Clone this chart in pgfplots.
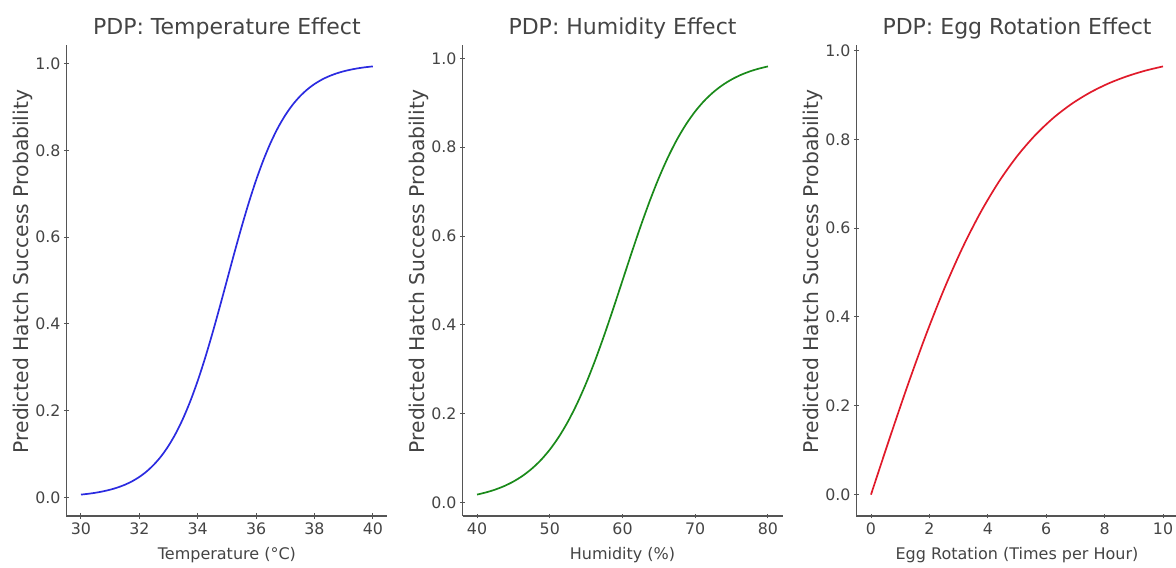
\documentclass[border=0pt]{standalone}
\usepackage{fontspec}
\setmainfont{DejaVu Sans}
\usepackage{pgfplots}
\pgfplotsset{compat=1.18}
\definecolor{txt}{HTML}{444444}
\definecolor{spine}{HTML}{555555}
\definecolor{mplblue}{HTML}{2B2BE0}
\definecolor{mplgreen}{HTML}{1A8A1A}
\definecolor{mplred}{HTML}{E01A2A}
\pgfplotsset{
  pdpstyle/.style={
    scale only axis,
    height=471bp,
    anchor=south west,
    axis lines=left,
    axis line style={-, draw=spine, line width=1.3bp},
    every outer x axis line/.append style={-},
    every outer y axis line/.append style={-},
    tick style={draw=spine, line width=1bp},
    major tick length=5bp,
    tick align=center,
    ytick={0,0.2,0.4,0.6,0.8,1.0},
    yticklabel style={/pgf/number format/.cd, fixed, fixed zerofill, precision=1},
    /pgf/number format/assume math mode=true,
    ticklabel style={font=\fontsize{15.8bp}{18bp}\selectfont, text=txt},
    xticklabel style={yshift=-1bp},
    label style={font=\fontsize{16bp}{18bp}\selectfont, text=txt},
    xlabel style={yshift=-6bp},
    ylabel style={font=\fontsize{20.3bp}{22bp}\selectfont, yshift=-4bp, xshift=9bp},
    title style={font=\fontsize{22bp}{24bp}\selectfont, text=txt, yshift=-4bp},
    ylabel={Predicted Hatch Success Probability},
  }
}
\begin{document}
\begin{tikzpicture}
\path[use as bounding box] (0,0) rectangle (1176bp,568bp);
% Panel 1
\begin{axis}[pdpstyle, at={(66.4bp,52bp)}, width=321bp,
  xmin=29.5, xmax=40.5, ymin=-0.0426, ymax=1.0426,
  xtick={30,32,34,36,38,40},
  title={PDP: Temperature Effect}, xlabel={Temperature (°C)}]
\addplot[mplblue, line width=1.7bp, smooth] coordinates {
(30,0.0067)(30.25,0.0086)(30.5,0.0110)(30.75,0.0141)(31,0.0180)(31.25,0.0230)
(31.5,0.0293)(31.75,0.0373)(32,0.0474)(32.25,0.0601)(32.5,0.0759)(32.75,0.0953)
(33,0.1192)(33.25,0.1480)(33.5,0.1824)(33.75,0.2227)(34,0.2689)(34.25,0.3208)
(34.5,0.3775)(34.75,0.4378)(35,0.5)(35.25,0.5622)(35.5,0.6225)(35.75,0.6792)
(36,0.7311)(36.25,0.7773)(36.5,0.8176)(36.75,0.8520)(37,0.8808)(37.25,0.9047)
(37.5,0.9241)(37.75,0.9399)(38,0.9526)(38.25,0.9627)(38.5,0.9707)(38.75,0.9770)
(39,0.9820)(39.25,0.9859)(39.5,0.9890)(39.75,0.9914)(40,0.9933)};
\end{axis}
% Panel 2
\begin{axis}[pdpstyle, at={(462.5bp,52bp)}, width=320bp,
  xmin=38, xmax=82, ymin=-0.0302, ymax=1.0302,
  xtick={40,50,60,70,80},
  title={PDP: Humidity Effect}, xlabel={Humidity (\%)}]
\addplot[mplgreen, line width=1.7bp, smooth] coordinates {
(40,0.0180)(41.25,0.0230)(42.5,0.0293)(43.75,0.0373)(45,0.0474)(46.25,0.0601)
(47.5,0.0759)(48.75,0.0953)(50,0.1192)(51.25,0.1480)(52.5,0.1824)(53.75,0.2227)
(55,0.2689)(56.25,0.3208)(57.5,0.3775)(58.75,0.4378)(60,0.5)(61.25,0.5622)
(62.5,0.6225)(63.75,0.6792)(65,0.7311)(66.25,0.7773)(67.5,0.8176)(68.75,0.8520)
(70,0.8808)(71.25,0.9047)(72.5,0.9241)(73.75,0.9399)(75,0.9526)(76.25,0.9627)
(77.5,0.9707)(78.75,0.9770)(80,0.9820)};
\end{axis}
% Panel 3
\begin{axis}[pdpstyle, at={(856.4bp,52bp)}, width=321.2bp,
  xmin=-0.5, xmax=10.5, ymin=-0.0482, ymax=1.0122,
  xtick={0,2,4,6,8,10},
  title={PDP: Egg Rotation Effect}, xlabel={Egg Rotation (Times per Hour)}]
\addplot[mplred, line width=1.7bp, smooth] coordinates {
(0,0)(0.625,0.1244)(1.25,0.2449)(1.875,0.3584)(2.5,0.4621)(3.125,0.5546)
(3.75,0.6351)(4.375,0.7039)(5,0.7616)(5.625,0.8093)(6.25,0.8483)(6.875,0.8798)
(7.5,0.9051)(8.125,0.9254)(8.75,0.9414)(9.375,0.9541)(10,0.9640)};
\end{axis}
\end{tikzpicture}
\end{document}
